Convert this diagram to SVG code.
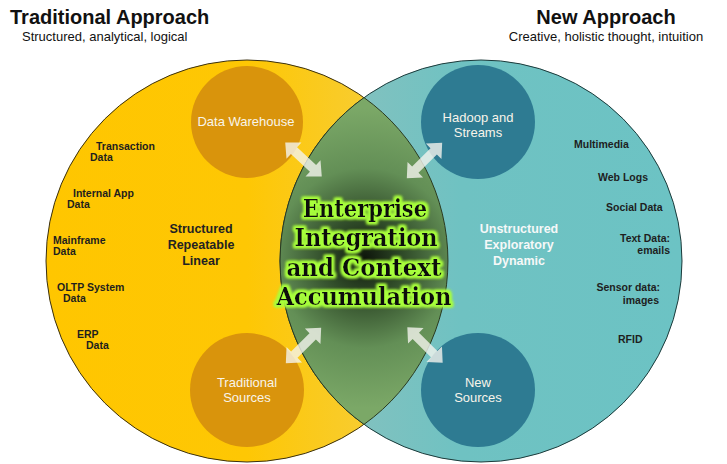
<svg xmlns="http://www.w3.org/2000/svg" width="727" height="464" viewBox="0 0 727 464">
<style>
.title{font-family:"Liberation Sans",Arial,sans-serif;font-weight:bold;font-size:20px;fill:#111}
.sub{font-family:"Liberation Sans",Arial,sans-serif;font-size:13px;fill:#111}
.lbl{font-family:"Liberation Sans",Arial,sans-serif;font-weight:bold;font-size:10.5px;fill:#1e1e1e}
.mid{font-family:"Liberation Sans",Arial,sans-serif;font-weight:bold;font-size:12.5px;text-anchor:middle}
.node{font-family:"Liberation Sans",Arial,sans-serif;font-size:13px;text-anchor:middle;fill:#f8f4ea}
.big{font-family:"DejaVu Serif",serif;font-weight:bold;font-size:25px;fill:#0a0a0a;text-anchor:middle}
.arrow{fill:#f4f4ee;fill-opacity:0.8}
</style>
<defs>
<linearGradient id="gl" x1="0" y1="0" x2="1" y2="0">
<stop offset="0" stop-color="#FFC600"/>
<stop offset="0.5" stop-color="#FEC704"/>
<stop offset="1" stop-color="#F3D04E"/>
</linearGradient>
<linearGradient id="gr" x1="0" y1="0" x2="1" y2="0">
<stop offset="0" stop-color="#8FC1BD"/>
<stop offset="0.45" stop-color="#6FC2C2"/>
<stop offset="1" stop-color="#6CC3C4"/>
</linearGradient>
<radialGradient id="gc" cx="365" cy="258" r="150" gradientUnits="userSpaceOnUse">
<stop offset="0" stop-color="#0e160b"/>
<stop offset="0.25" stop-color="#2f4a28"/>
<stop offset="0.6" stop-color="#638f56"/>
<stop offset="1" stop-color="#7BA867"/>
</radialGradient>
<filter id="glow" x="-20%" y="-50%" width="140%" height="200%">
<feMorphology in="SourceAlpha" operator="dilate" radius="2" result="d"/>
<feGaussianBlur in="d" stdDeviation="1.8" result="b"/>
<feFlood flood-color="#a8ff3c"/>
<feComposite in2="b" operator="in" result="g"/>
<feMerge><feMergeNode in="g"/><feMergeNode in="g"/><feMergeNode in="SourceGraphic"/></feMerge>
</filter>
<polygon id="dbl" points="-25,0 -13,-11 -13,-4.5 13,-4.5 13,-11 25,0 13,11 13,4.5 -13,4.5 -13,11"/>
</defs>

<g id="titles">
<text class="title" x="10" y="24">Traditional Approach</text>
<text class="sub" x="22" y="41">Structured, analytical, logical</text>
<text class="title" x="606" y="24" text-anchor="middle">New Approach</text>
<text class="sub" x="606" y="41" text-anchor="middle">Creative, holistic thought, intuition</text>
</g>

<g id="traditional-circle">
<circle cx="247" cy="261" r="201" fill="url(#gl)" stroke="#3a3010" stroke-width="1"/>
</g>
<g id="new-circle">
<circle cx="481" cy="261" r="201" fill="url(#gr)" stroke="#1c3a3a" stroke-width="1"/>
</g>
<g id="center">
<path d="M364,97.6 A201,201 0 0 1 364,424.4 A201,201 0 0 1 364,97.6 Z" fill="url(#gc)" stroke="#2a3a20" stroke-width="1"/>
<g filter="url(#glow)">
<text class="big" x="365" y="217" textLength="124" lengthAdjust="spacingAndGlyphs">Enterprise</text>
<text class="big" x="366" y="246" textLength="143" lengthAdjust="spacingAndGlyphs">Integration</text>
<text class="big" x="364" y="276" textLength="155" lengthAdjust="spacingAndGlyphs">and Context</text>
<text class="big" x="364" y="305" textLength="175" lengthAdjust="spacingAndGlyphs">Accumulation</text>
</g>
</g>

<g id="data-warehouse">
<circle cx="247" cy="122" r="56" fill="#D9940C"/>
<text class="node" x="246" y="126">Data Warehouse</text>
</g>
<g id="hadoop">
<circle cx="478" cy="122" r="57" fill="#2E7B92"/>
<text class="node" x="478" y="122">Hadoop and</text>
<text class="node" x="478" y="137">Streams</text>
</g>
<g id="traditional-sources">
<circle cx="247" cy="390" r="57" fill="#D9940C"/>
<text class="node" x="247" y="387">Traditional</text>
<text class="node" x="247" y="402">Sources</text>
</g>
<g id="new-sources">
<circle cx="478" cy="390" r="57" fill="#2E7B92"/>
<text class="node" x="478" y="387">New</text>
<text class="node" x="478" y="402">Sources</text>
</g>

<g id="connectors">
<use href="#dbl" class="arrow" transform="translate(303.5,159.5) rotate(43)"/>
<use href="#dbl" class="arrow" transform="translate(424.5,160.5) rotate(-45)"/>
<use href="#dbl" class="arrow" transform="translate(303.5,345.5) rotate(-45)"/>
<use href="#dbl" class="arrow" transform="translate(425,345) rotate(45)"/>
</g>

<g id="traditional-labels">
<text class="lbl" x="96" y="150">Transaction</text>
<text class="lbl" x="90" y="161">Data</text>
<text class="lbl" x="73" y="197">Internal App</text>
<text class="lbl" x="67" y="208">Data</text>
<text class="lbl" x="53" y="244">Mainframe</text>
<text class="lbl" x="53" y="255">Data</text>
<text class="lbl" x="57" y="291">OLTP System</text>
<text class="lbl" x="63" y="302">Data</text>
<text class="lbl" x="77" y="338">ERP</text>
<text class="lbl" x="86" y="349">Data</text>
<text class="mid" x="201" y="233" fill="#222">Structured</text>
<text class="mid" x="201" y="249" fill="#222">Repeatable</text>
<text class="mid" x="201" y="265" fill="#222">Linear</text>
</g>

<g id="new-labels">
<text class="lbl" x="574" y="148">Multimedia</text>
<text class="lbl" x="598" y="181">Web Logs</text>
<text class="lbl" x="606" y="211">Social Data</text>
<text class="lbl" x="670" y="242" text-anchor="end">Text Data:</text>
<text class="lbl" x="670" y="254" text-anchor="end">emails</text>
<text class="lbl" x="660" y="291" text-anchor="end">Sensor data:</text>
<text class="lbl" x="659" y="304" text-anchor="end">images</text>
<text class="lbl" x="618" y="343">RFID</text>
<text class="mid" x="519" y="233" fill="#f6f8f8">Unstructured</text>
<text class="mid" x="519" y="249" fill="#f6f8f8">Exploratory</text>
<text class="mid" x="519" y="265" fill="#f6f8f8">Dynamic</text>
</g>
</svg>
